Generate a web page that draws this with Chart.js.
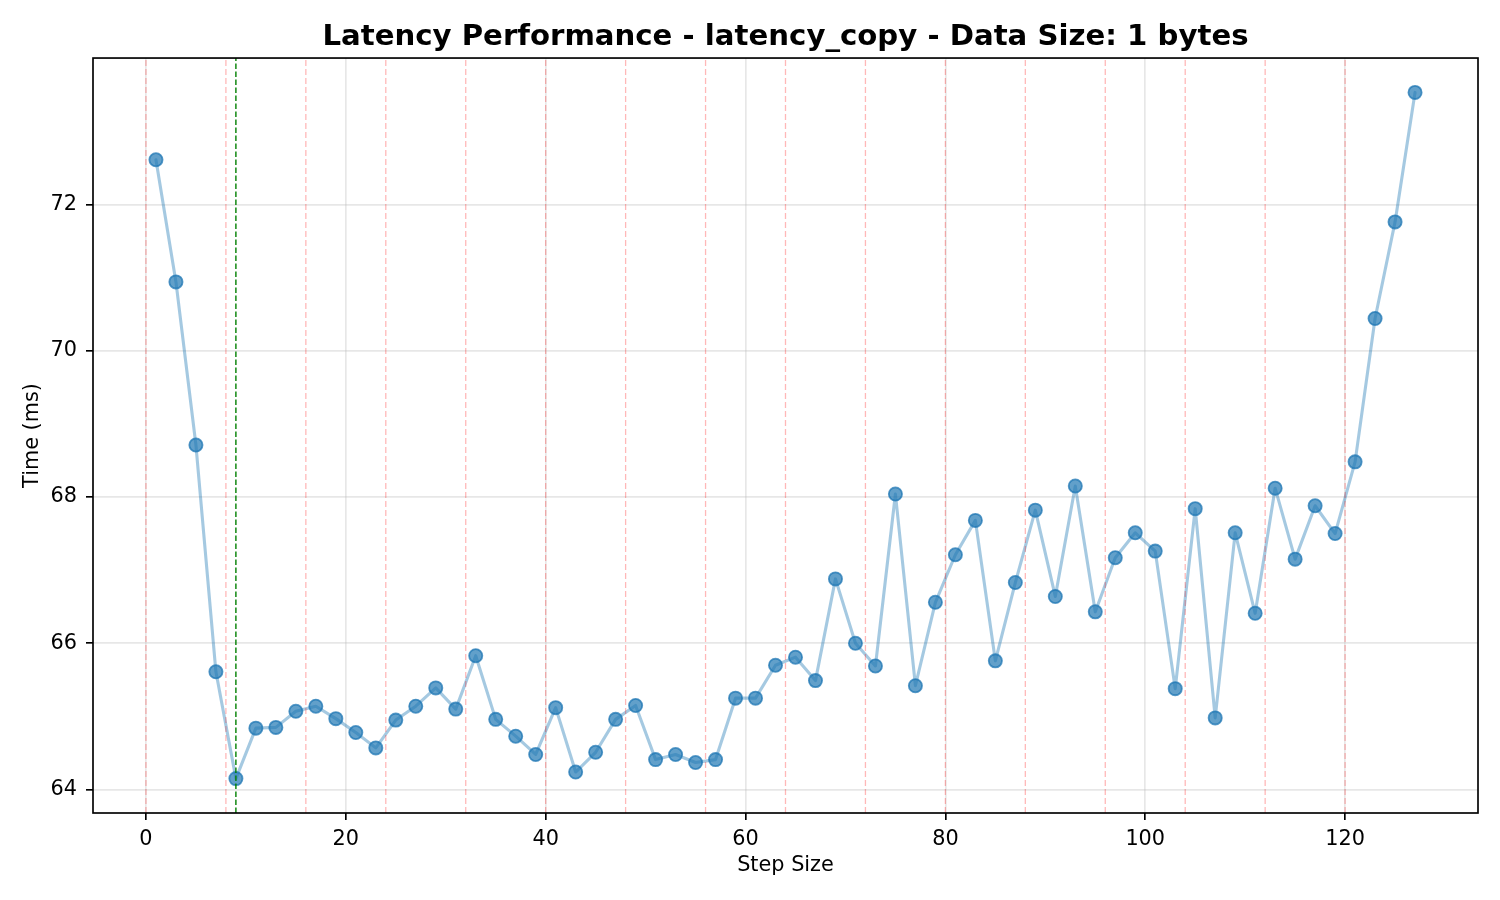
<!DOCTYPE html>
<html>
<head>
<meta charset="utf-8">
<script src="https://cdn.jsdelivr.net/npm/chart.js@4.4.1/dist/chart.umd.min.js"></script>
<style>
  html, body { margin: 0; padding: 0; background: #ffffff; }
  #wrap { width: 1500px; height: 900px; }
  canvas { display: block; }
</style>
</head>
<body>
<div id="wrap"><canvas id="c" width="1500" height="900"></canvas></div>
<script>
// ---- data ----
const steps = [1, 3, 5, 7, 9, 11, 13, 15, 17, 19, 21, 23, 25, 27, 29, 31,
               33, 35, 37, 39, 41, 43, 45, 47, 49, 51, 53, 55, 57, 59, 61, 63,
               65, 67, 69, 71, 73, 75, 77, 79, 81, 83, 85, 87, 89, 91, 93, 95,
               97, 99, 101, 103, 105, 107, 109, 111, 113, 115, 117, 119, 121, 123, 125, 127];
const timesMs = [72.61, 70.94, 68.71, 65.61, 64.15, 64.84, 64.85, 65.07, 65.14, 64.97, 64.78, 64.57, 64.95, 65.14, 65.39, 65.10,
                 65.83, 64.96, 64.73, 64.48, 65.12, 64.24, 64.51, 64.96, 65.15, 64.41, 64.48, 64.37, 64.41, 65.25, 65.25, 65.70,
                 65.81, 65.49, 66.88, 66.00, 65.69, 68.04, 65.42, 66.56, 67.21, 67.68, 65.76, 66.83, 67.82, 66.64, 68.15, 66.43,
                 67.17, 67.51, 67.26, 65.38, 67.84, 64.98, 67.51, 66.41, 68.12, 67.15, 67.88, 67.50, 68.48, 70.44, 71.76, 73.53];
const cacheLineSteps = [0, 8, 16, 24, 32, 40, 48, 56, 64, 72, 80, 88, 96, 104, 112, 120];
const bestStep = [9];
const xTickValues = [0, 20, 40, 60, 80, 100, 120];
const yTickValues = [64, 66, 68, 70, 72];
const titleText = 'Latency Performance - latency_copy - Data Size: 1 bytes';
const xLabel = 'Step Size';
const yLabel = 'Time (ms)';
const X_MIN = -5.3, X_MAX = 133.3;
const Y_MIN = 63.68, Y_MAX = 74.0;

// ---- build datasets ----
const FONT = 'DejaVu Sans';
const mainData = steps.map((s, i) => ({ x: s, y: timesMs[i] }));

const vlineSets = [];
cacheLineSteps.forEach(v => {
  vlineSets.push({
    data: [{ x: v, y: Y_MIN }, { x: v, y: Y_MAX }],
    borderColor: 'rgba(255,0,0,0.28)',
    borderWidth: 1.3,
    borderDash: [6, 3],
    pointRadius: 0,
    order: 1
  });
});
bestStep.forEach(v => {
  vlineSets.push({
    data: [{ x: v, y: Y_MIN }, { x: v, y: Y_MAX }],
    borderColor: 'rgba(0,128,0,1)',
    borderWidth: 1.4,
    borderDash: [5.5, 2.5],
    pointRadius: 0,
    order: 0
  });
});

const spines = {
  id: 'spines',
  afterDatasetsDraw(chart) {
    const a = chart.chartArea, ctx = chart.ctx;
    ctx.save();
    ctx.strokeStyle = '#000';
    ctx.lineWidth = 1.67;
    ctx.strokeRect(a.left, a.top, a.right - a.left, a.bottom - a.top);
    ctx.restore();
  }
};

new Chart(document.getElementById('c'), {
  type: 'line',
  data: {
    datasets: [{
      data: mainData,
      borderColor: 'rgba(31,119,180,0.4)',
      borderWidth: 3.1,
      borderJoinStyle: 'round',
      borderCapStyle: 'round',
      pointRadius: 6.6,
      pointBorderWidth: 1.8,
      pointBackgroundColor: 'rgba(31,119,180,0.7)',
      pointBorderColor: 'rgba(31,119,180,0.75)',
      tension: 0,
      order: 2
    }, ...vlineSets]
  },
  options: {
    responsive: false,
    devicePixelRatio: 1,
    animation: false,
    layout: { padding: { left: 0, right: 22, top: 0, bottom: 0 } },
    plugins: {
      legend: { display: false },
      tooltip: { enabled: false },
      title: {
        display: true,
        text: titleText,
        fullSize: false,
        color: '#000',
        font: { family: FONT, size: 29.2, weight: 'bold', lineHeight: 1.2 },
        padding: { top: 19.5, bottom: 3.5 }
      }
    },
    scales: {
      x: {
        type: 'linear',
        min: X_MIN,
        max: X_MAX,
        afterBuildTicks: s => { s.ticks = xTickValues.map(v => ({ value: v })); },
        afterFit: s => { s.height = 87; },
        ticks: {
          color: '#000',
          font: { family: FONT, size: 20.8 },
          padding: 7,
          maxRotation: 0,
          autoSkip: false,
          callback: v => String(v)
        },
        grid: {
          color: 'rgba(176,176,176,0.3)',
          lineWidth: 1.67,
          tickColor: '#000',
          tickLength: 7,
          tickWidth: 1.67
        },
        border: { display: false },
        title: {
          display: true,
          text: xLabel,
          color: '#000',
          font: { family: FONT, size: 20.8, lineHeight: 1.2 },
          padding: { top: 0, bottom: 22 }
        }
      },
      y: {
        type: 'linear',
        min: Y_MIN,
        max: Y_MAX,
        afterBuildTicks: s => { s.ticks = yTickValues.map(v => ({ value: v })); },
        afterFit: s => { s.width = 93; },
        ticks: {
          color: '#000',
          font: { family: FONT, size: 20.8 },
          padding: 9,
          autoSkip: false,
          callback: v => String(v)
        },
        grid: {
          color: 'rgba(176,176,176,0.3)',
          lineWidth: 1.67,
          tickColor: '#000',
          tickLength: 7,
          tickWidth: 1.67
        },
        border: { display: false },
        title: {
          display: true,
          text: yLabel,
          color: '#000',
          font: { family: FONT, size: 20.8, lineHeight: 1.2 },
          padding: { top: 20.5, bottom: 0 }
        }
      }
    }
  },
  plugins: [spines]
});
</script>
</body>
</html>
